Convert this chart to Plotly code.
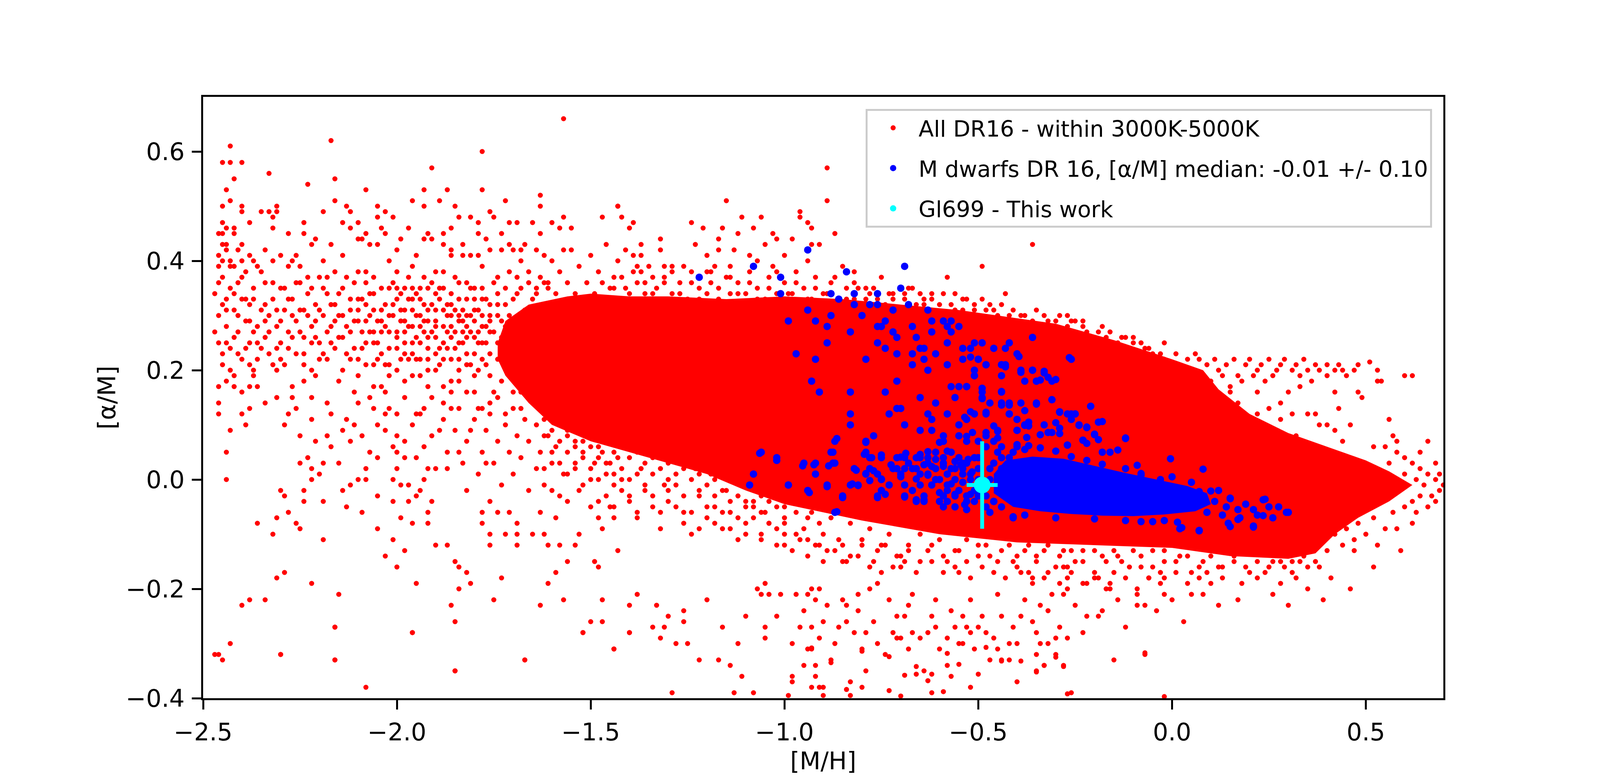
import plotly.graph_objects as go

# ---- data: [M/H] (x) and [alpha/M] (y) ----

# outline of the saturated (solid red) part of the DR16 cloud
core_mh = [-1.74, -1.72, -1.66, -1.56, -1.50, -1.40, -1.30, -1.15, -1.00, -0.85, -0.70, -0.55,
           -0.40, -0.30, -0.15, 0.00, 0.08, 0.12, 0.20, 0.30, 0.40, 0.50, 0.56, 0.62,
           0.56, 0.48, 0.42, 0.37, 0.30, 0.15, 0.00, -0.20, -0.40, -0.60, -0.80,
           -0.90, -1.00, -1.10, -1.20, -1.35, -1.50, -1.60, -1.66, -1.72, -1.74]
core_am = [0.25, 0.29, 0.32, 0.335, 0.34, 0.335, 0.335, 0.33, 0.335, 0.33, 0.32, 0.31,
           0.295, 0.285, 0.255, 0.22, 0.20, 0.165, 0.12, 0.085, 0.06, 0.035, 0.015, -0.01,
           -0.04, -0.07, -0.10, -0.135, -0.145, -0.14, -0.125, -0.12, -0.115, -0.10, -0.075,
           -0.06, -0.045, -0.02, 0.01, 0.04, 0.07, 0.10, 0.14, 0.19, 0.22]

# individual DR16 stars outside the saturated core
red_left_high = [
    (-2.43, 0.61), (-2.45, 0.58), (-2.43, 0.58), (-2.40, 0.58), (-2.42, 0.55), (-2.44, 0.53),
    (-2.33, 0.56), (-2.17, 0.62), (-2.16, 0.55), (-2.23, 0.54), (-1.91, 0.57), (-1.78, 0.60),
    (-1.78, 0.53), (-1.57, 0.66), (-1.87, 0.53), (-1.93, 0.53), (-2.08, 0.53), (-1.63, 0.52),
    (-1.72, 0.51), (-1.63, 0.50), (-1.96, 0.51), (-1.93, 0.50), (-1.89, 0.51), (-1.85, 0.50),
    (-2.05, 0.50), (-2.03, 0.49), (-2.01, 0.48), (-2.05, 0.48), (-2.13, 0.50), (-2.12, 0.49),
    (-2.19, 0.49), (-2.16, 0.51), (-2.31, 0.50), (-2.35, 0.49), (-2.33, 0.49), (-2.32, 0.48),
    (-2.31, 0.49), (-2.32, 0.46), (-2.45, 0.50), (-2.43, 0.51), (-2.40, 0.50), (-2.40, 0.49),
    (-2.45, 0.47), (-2.45, 0.45), (-2.46, 0.45), (-2.44, 0.46), (-2.42, 0.46), (-2.42, 0.45),
    (-2.38, 0.47), (-2.28, 0.45), (-2.24, 0.47), (-2.24, 0.45), (-2.14, 0.47), (-2.12, 0.46),
    (-2.10, 0.47), (-2.08, 0.45), (-2.04, 0.46), (-2.03, 0.45), (-1.97, 0.46), (-1.92, 0.45),
    (-1.88, 0.45), (-1.86, 0.46), (-1.84, 0.48), (-1.81, 0.48), (-1.79, 0.47), (-1.79, 0.45),
    (-1.76, 0.49), (-1.75, 0.48), (-1.73, 0.45), (-1.71, 0.47), (-1.69, 0.47), (-1.65, 0.47),
    (-1.63, 0.45), (-1.60, 0.47), (-1.58, 0.46), (-1.55, 0.46), (-1.57, 0.48), (-1.47, 0.48),
    (-1.43, 0.50),
    (-2.41, 0.42), (-2.40, 0.43), (-2.44, 0.42), (-2.44, 0.43), (-2.45, 0.43), (-2.45, 0.40),
    (-2.46, 0.39), (-2.43, 0.40), (-2.42, 0.39), (-2.38, 0.41), (-2.37, 0.40), (-2.22, 0.43),
    (-2.21, 0.44), (-2.17, 0.43), (-2.10, 0.44), (-2.09, 0.44), (-2.07, 0.43), (-2.05, 0.43),
    (-1.99, 0.44), (-1.93, 0.44), (-1.91, 0.44), (-1.88, 0.43), (-1.86, 0.42), (-1.83, 0.43),
    (-1.77, 0.44), (-1.67, 0.43), (-1.68, 0.42), (-1.70, 0.42), (-1.71, 0.43), (-1.73, 0.42),
    (-1.76, 0.42), (-1.79, 0.41), (-1.81, 0.41), (-1.83, 0.41), (-1.86, 0.41), (-2.30, 0.41),
    (-2.27, 0.40), (-2.19, 0.40), (-2.14, 0.41), (-2.02, 0.40), (-1.96, 0.39), (-2.34, 0.42),
    (-2.25, 0.39), (-2.00, 0.42), (-1.95, 0.41), (-1.62, 0.41), (-1.57, 0.42),
]

red_left_band = [
    (-2.47, 0.34), (-2.46, 0.30), (-2.46, 0.25), (-2.45, 0.37), (-2.45, 0.21), (-2.44, 0.33),
    (-2.44, 0.28), (-2.43, 0.39), (-2.43, 0.24), (-2.42, 0.31), (-2.42, 0.19), (-2.41, 0.36),
    (-2.41, 0.27), (-2.40, 0.33), (-2.40, 0.22), (-2.39, 0.29), (-2.39, 0.38), (-2.38, 0.25),
    (-2.38, 0.32), (-2.37, 0.35), (-2.36, 0.28), (-2.36, 0.22), (-2.35, 0.31), (-2.34, 0.26),
    (-2.34, 0.36), (-2.33, 0.30), (-2.32, 0.33), (-2.32, 0.21), (-2.31, 0.28), (-2.30, 0.35),
    (-2.30, 0.25), (-2.29, 0.31), (-2.28, 0.27), (-2.28, 0.39), (-2.27, 0.33), (-2.26, 0.29),
    (-2.26, 0.23), (-2.25, 0.36), (-2.24, 0.31), (-2.24, 0.26), (-2.23, 0.34), (-2.22, 0.28),
    (-2.22, 0.20), (-2.21, 0.32), (-2.20, 0.37), (-2.20, 0.25), (-2.19, 0.30), (-2.18, 0.34),
    (-2.18, 0.22), (-2.17, 0.28), (-2.16, 0.32), (-2.16, 0.38), (-2.15, 0.26), (-2.14, 0.30),
    (-2.14, 0.35), (-2.13, 0.23), (-2.12, 0.31), (-2.12, 0.27), (-2.11, 0.36), (-2.10, 0.29),
    (-2.10, 0.19), (-2.09, 0.33), (-2.08, 0.25), (-2.08, 0.38), (-2.07, 0.30), (-2.06, 0.27),
    (-2.06, 0.34), (-2.05, 0.22), (-2.04, 0.31), (-2.04, 0.17), (-2.03, 0.28), (-2.02, 0.35),
    (-2.02, 0.24), (-2.01, 0.32), (-2.00, 0.27), (-2.00, 0.20), (-1.99, 0.34), (-1.99, 0.29),
    (-1.98, 0.25), (-1.98, 0.31), (-1.97, 0.37), (-1.97, 0.22), (-1.96, 0.28), (-1.96, 0.33),
    (-1.95, 0.26), (-1.95, 0.30), (-1.94, 0.35), (-1.94, 0.19), (-1.93, 0.27), (-1.93, 0.32),
    (-1.92, 0.24), (-1.92, 0.29), (-1.91, 0.36), (-1.91, 0.15), (-1.90, 0.31), (-1.90, 0.26),
    (-1.89, 0.33), (-1.89, 0.21), (-1.88, 0.28), (-1.88, 0.38), (-1.87, 0.30), (-1.87, 0.24),
    (-1.86, 0.34), (-1.86, 0.18), (-1.85, 0.27), (-1.85, 0.31), (-1.84, 0.22), (-1.84, 0.36),
    (-1.83, 0.29), (-1.83, 0.25), (-1.82, 0.33), (-1.82, 0.16), (-1.81, 0.30), (-1.81, 0.27),
    (-1.80, 0.23), (-1.80, 0.35), (-1.79, 0.31), (-1.79, 0.20), (-1.78, 0.28), (-1.78, 0.39),
    (-1.77, 0.25), (-1.77, 0.33), (-1.76, 0.30), (-1.76, 0.14), (-1.75, 0.27), (-1.75, 0.36),
    (-1.74, 0.22), (-1.74, 0.32), (-1.73, 0.29), (-1.73, 0.18), (-1.72, 0.35), (-1.72, 0.25),
    (-2.09, 0.27), (-2.07, 0.34), (-2.06, 0.21), (-2.05, 0.29), (-2.03, 0.32), (-2.02, 0.19),
    (-2.01, 0.36), (-2.00, 0.24), (-1.99, 0.31), (-1.98, 0.18), (-1.97, 0.28), (-1.96, 0.35),
    (-1.95, 0.22), (-1.94, 0.30), (-1.93, 0.37), (-1.92, 0.20), (-1.91, 0.27), (-1.90, 0.34),
    (-1.89, 0.24), (-1.88, 0.17), (-1.87, 0.32), (-1.86, 0.26), (-1.85, 0.37), (-1.84, 0.20),
    (-1.83, 0.31), (-1.82, 0.26), (-1.81, 0.35), (-1.80, 0.19), (-1.79, 0.27), (-1.78, 0.33),
    (-1.77, 0.21), (-1.76, 0.29), (-1.75, 0.16), (-1.74, 0.34), (-1.73, 0.26), (-1.72, 0.21),
    (-1.71, 0.30), (-1.70, 0.24), (-1.69, 0.37), (-1.68, 0.19), (-1.67, 0.31), (-1.66, 0.27),
    (-1.65, 0.22), (-1.64, 0.35), (-1.63, 0.18), (-1.62, 0.29), (-1.61, 0.36), (-1.60, 0.22),
    (-1.59, 0.16), (-1.58, 0.30),
    (-1.71, 0.38), (-1.69, 0.34), (-1.68, 0.40), (-1.66, 0.36), (-1.65, 0.33), (-1.64, 0.42),
    (-1.63, 0.37), (-1.61, 0.35), (-1.60, 0.40), (-1.59, 0.34), (-1.58, 0.38), (-1.56, 0.36),
    (-1.55, 0.42), (-1.54, 0.34), (-1.53, 0.39), (-1.51, 0.36), (-1.50, 0.41), (-1.49, 0.34),
    (-1.48, 0.38), (-1.47, 0.36), (-1.46, 0.43), (-1.45, 0.35),
    (-2.44, 0.18), (-2.40, 0.12), (-2.37, 0.19), (-2.34, 0.14), (-2.31, 0.20), (-2.27, 0.17),
    (-2.25, 0.08), (-2.21, 0.19), (-2.18, 0.14), (-2.15, 0.18), (-2.13, 0.11), (-2.11, 0.16),
    (-2.09, 0.08), (-2.07, 0.15), (-2.05, 0.10), (-2.03, 0.16), (-2.01, 0.06),
    (-2.06, 0.13), (-2.03, 0.09), (-2.00, 0.12), (-1.98, 0.07), (-1.96, 0.10), (-1.95, 0.04),
    (-1.93, 0.13), (-1.91, 0.08), (-1.90, 0.02), (-1.88, 0.11), (-1.87, 0.05), (-1.85, 0.09),
    (-1.84, 0.13), (-1.83, 0.03), (-1.82, 0.07), (-1.80, 0.11), (-1.79, 0.01), (-1.78, 0.05),
    (-1.77, 0.09), (-1.76, 0.12), (-1.75, 0.03), (-1.74, 0.07), (-1.73, -0.01), (-1.72, 0.10),
    (-1.71, 0.05), (-1.70, 0.13), (-1.70, 0.01), (-1.69, 0.08), (-1.68, 0.16), (-1.68, 0.04),
    (-1.67, 0.11), (-1.66, -0.02), (-1.66, 0.07), (-1.65, 0.14), (-1.64, 0.02), (-1.64, 0.10),
    (-1.63, 0.05), (-1.62, 0.12), (-1.62, -0.01), (-1.61, 0.08), (-1.60, 0.03), (-1.60, 0.11),
    (-1.59, 0.06), (-1.58, 0.13), (-1.58, -0.03), (-1.57, 0.01), (-1.56, 0.09), (-1.56, 0.05),
    (-1.55, 0.12), (-1.54, 0.02), (-1.54, 0.07), (-1.53, -0.02), (-1.52, 0.10), (-1.52, 0.04),
    (-1.51, 0.08), (-1.50, 0.00), (-1.50, 0.06), (-1.49, 0.03), (-1.48, 0.09), (-1.48, -0.04),
    (-1.47, 0.05), (-1.46, 0.01), (-1.46, 0.07), (-1.45, 0.03), (-1.44, -0.01),
]

red_left_dense = [
    (-2.10, 0.22), (-2.10, 0.33), (-2.10, 0.14), (-2.08, 0.29), (-2.08, 0.21), (-2.08, 0.36),
    (-2.06, 0.25), (-2.06, 0.31), (-2.06, 0.17), (-2.04, 0.27), (-2.04, 0.35), (-2.04, 0.23),
    (-2.02, 0.30), (-2.02, 0.21), (-2.02, 0.13), (-2.00, 0.26), (-2.00, 0.33), (-2.00, 0.38),
    (-1.98, 0.23), (-1.98, 0.29), (-1.98, 0.35), (-1.98, 0.15), (-1.96, 0.25), (-1.96, 0.31),
    (-1.96, 0.19), (-1.94, 0.28), (-1.94, 0.22), (-1.94, 0.33), (-1.94, 0.12), (-1.92, 0.26),
    (-1.92, 0.31), (-1.92, 0.35), (-1.92, 0.17), (-1.90, 0.23), (-1.90, 0.29), (-1.90, 0.20),
    (-1.90, 0.38), (-1.88, 0.25), (-1.88, 0.31), (-1.88, 0.35), (-1.88, 0.14), (-1.86, 0.22),
    (-1.86, 0.28), (-1.86, 0.30), (-1.86, 0.16), (-1.84, 0.25), (-1.84, 0.33), (-1.84, 0.29),
    (-1.84, 0.18), (-1.82, 0.21), (-1.82, 0.28), (-1.82, 0.36), (-1.82, 0.23), (-1.80, 0.26),
    (-1.80, 0.31), (-1.80, 0.16), (-1.80, 0.29), (-1.78, 0.22), (-1.78, 0.25), (-1.78, 0.35),
    (-1.78, 0.13), (-1.76, 0.27), (-1.76, 0.32), (-1.76, 0.19), (-1.76, 0.23), (-1.74, 0.25),
    (-1.74, 0.30), (-1.74, 0.37), (-1.74, 0.15), (-1.72, 0.23), (-1.72, 0.28), (-1.72, 0.32),
    (-1.72, 0.12), (-1.70, 0.20), (-1.70, 0.27), (-1.70, 0.33), (-1.70, 0.16), (-1.68, 0.22),
    (-1.68, 0.29), (-1.68, 0.35), (-1.68, 0.13), (-1.66, 0.25), (-1.66, 0.31), (-1.66, 0.18),
    (-1.66, 0.38), (-1.64, 0.21), (-1.64, 0.28), (-1.64, 0.34), (-1.64, 0.15), (-1.62, 0.24),
    (-1.62, 0.30), (-1.62, 0.36), (-1.62, 0.11),
    (-2.47, 0.27), (-2.46, 0.36), (-2.45, 0.23), (-2.44, 0.31), (-2.43, 0.35), (-2.42, 0.26),
    (-2.41, 0.30), (-2.40, 0.37), (-2.39, 0.24), (-2.38, 0.29), (-2.37, 0.33), (-2.36, 0.25),
    (-2.35, 0.38), (-2.34, 0.29), (-2.33, 0.23), (-2.32, 0.36), (-2.31, 0.31), (-2.30, 0.22),
    (-2.29, 0.35), (-2.28, 0.24), (-2.27, 0.30), (-2.26, 0.36), (-2.25, 0.27), (-2.24, 0.21),
    (-2.23, 0.30), (-2.22, 0.35), (-2.21, 0.26), (-2.20, 0.31), (-2.19, 0.23), (-2.18, 0.37),
    (-2.17, 0.25), (-2.16, 0.29), (-2.15, 0.34), (-2.14, 0.20), (-2.13, 0.28), (-2.12, 0.33),
    (-2.11, 0.24), (-2.10, 0.38),
    (-2.46, 0.41), (-2.45, 0.32), (-2.44, 0.25), (-2.43, 0.20), (-2.42, 0.34), (-2.41, 0.23),
    (-2.40, 0.40), (-2.39, 0.33), (-2.38, 0.21), (-2.37, 0.27), (-2.36, 0.39), (-2.35, 0.24),
    (-2.34, 0.32), (-2.33, 0.27), (-2.32, 0.40), (-2.31, 0.24), (-2.30, 0.29), (-2.29, 0.21),
    (-2.28, 0.33), (-2.27, 0.26), (-2.26, 0.41), (-2.25, 0.31), (-2.24, 0.23), (-2.23, 0.37),
    (-2.22, 0.25), (-2.21, 0.29), (-2.20, 0.22), (-2.19, 0.35), (-2.18, 0.27), (-2.17, 0.32),
    (-2.16, 0.24), (-2.15, 0.30), (-2.14, 0.26), (-2.13, 0.37), (-2.12, 0.22), (-2.11, 0.29),
    (-2.10, 0.31), (-2.09, 0.24), (-2.08, 0.32), (-2.07, 0.27), (-2.06, 0.37), (-2.05, 0.25),
    (-2.04, 0.29), (-2.03, 0.21), (-2.02, 0.27), (-2.01, 0.30), (-2.00, 0.35), (-1.99, 0.22),
    (-1.98, 0.27), (-1.97, 0.33), (-1.96, 0.23), (-1.95, 0.34), (-1.94, 0.25), (-1.93, 0.29),
    (-1.92, 0.22), (-1.91, 0.32), (-1.90, 0.28), (-1.89, 0.35), (-1.88, 0.22), (-1.87, 0.27),
    (-1.86, 0.32), (-1.85, 0.24), (-1.84, 0.30), (-1.83, 0.27), (-1.82, 0.30), (-1.81, 0.21),
    (-1.80, 0.33), (-1.79, 0.25), (-1.78, 0.30), (-1.77, 0.28),
    (-2.28, 0.12), (-2.25, 0.03), (-2.21, 0.07), (-2.17, 0.12), (-2.15, 0.03), (-2.13, -0.05),
    (-2.11, 0.10), (-2.07, 0.05), (-2.05, -0.03), (-2.03, 0.12), (-2.00, 0.08), (-1.97, -0.01),
    (-1.95, 0.12), (-1.93, 0.06), (-1.91, -0.04), (-1.89, 0.09), (-1.87, 0.02), (-1.86, 0.13),
    (-1.84, 0.05), (-1.82, -0.02), (-1.81, 0.09), (-1.79, 0.13), (-1.77, 0.03), (-1.76, -0.04),
]

red_left_low = [
    (-2.46, 0.17), (-2.42, 0.17), (-2.40, 0.16), (-2.38, 0.17), (-2.36, 0.17), (-2.37, 0.20),
    (-2.46, 0.14), (-2.46, 0.12), (-2.43, 0.09), (-2.44, 0.05), (-2.44, 0.00), (-2.39, 0.10),
    (-2.38, 0.13), (-2.31, 0.15), (-2.29, 0.10), (-2.26, 0.13), (-2.27, 0.15), (-2.24, 0.18),
    (-2.22, 0.15), (-2.22, 0.11), (-2.23, 0.04), (-2.22, 0.02), (-2.22, 0.00), (-2.20, 0.01),
    (-2.19, -0.04), (-2.24, -0.02), (-2.24, -0.04), (-2.30, -0.02), (-2.29, -0.03), (-2.28, -0.06),
    (-2.36, -0.08), (-2.31, -0.07), (-2.26, -0.08), (-2.25, -0.09), (-2.19, -0.11), (-2.32, -0.10),
    (-2.29, -0.17), (-2.31, -0.18), (-2.38, -0.22), (-2.34, -0.22), (-2.40, -0.23), (-2.43, -0.30),
    (-2.30, -0.32), (-2.47, -0.32), (-2.46, -0.32), (-2.45, -0.33), (-2.22, -0.19), (-2.15, -0.21),
    (-2.16, -0.27), (-2.16, -0.33), (-2.08, -0.38), (-2.14, -0.02), (-2.18, 0.08), (-2.17, 0.06),
    (-2.19, 0.03), (-2.14, 0.09), (-2.12, 0.07), (-2.12, -0.01), (-2.09, -0.06), (-2.05, -0.09),
    (-2.03, -0.14), (-2.01, -0.11), (-2.00, -0.16), (-1.98, -0.13), (-1.96, -0.08), (-1.97, -0.04),
    (-1.95, -0.03), (-1.94, -0.02), (-2.01, -0.04), (-1.99, -0.01), (-1.99, -0.07), (-2.08, 0.02),
    (-2.08, 0.00), (-2.10, 0.00), (-2.05, 0.04), (-2.01, 0.00), (-2.00, 0.02), (-2.00, 0.05),
    (-1.98, 0.04), (-1.93, 0.00), (-1.92, 0.02), (-1.92, -0.06), (-1.92, -0.08), (-1.90, -0.12),
    (-1.87, -0.12), (-1.85, -0.15), (-1.84, -0.16), (-1.82, -0.17), (-1.81, -0.19), (-1.84, -0.20),
    (-1.86, -0.23), (-1.85, -0.26), (-1.85, -0.35), (-1.95, -0.19), (-1.96, -0.28), (-1.75, -0.22),
    (-1.73, -0.18), (-1.69, -0.10), (-1.69, -0.12), (-1.67, -0.33), (-1.63, -0.23), (-1.61, -0.19),
    (-1.59, -0.17), (-1.57, -0.22), (-1.56, -0.15), (-1.52, -0.28), (-1.50, -0.26), (-1.47, -0.22),
    (-1.47, -0.26), (-1.44, -0.31), (-1.49, -0.15), (-1.48, -0.16), (-1.54, -0.12), (-1.58, -0.12),
    (-1.61, -0.12), (-1.62, -0.10), (-1.65, -0.10), (-1.76, -0.10), (-1.76, -0.12), (-1.72, -0.10),
    (-1.78, -0.08), (-1.78, -0.06), (-1.74, -0.06), (-1.71, -0.06), (-1.69, -0.08), (-1.63, -0.06),
    (-1.59, -0.07), (-1.53, -0.10), (-1.48, -0.07), (-1.43, -0.13), (-1.45, -0.05), (-1.47, -0.09),
    (-2.16, -0.27), (-1.96, -0.28), (-2.30, -0.32), (-2.16, -0.33), (-1.85, -0.35), (-1.67, -0.33),
    (-1.52, -0.28), (-1.40, -0.28),
]

red_below_core = [
    (-1.62, 0.08), (-1.62, 0.02), (-1.60, 0.09), (-1.60, 0.05), (-1.60, -0.02), (-1.58, 0.07),
    (-1.58, 0.03), (-1.58, 0.10), (-1.56, 0.08), (-1.56, 0.01), (-1.56, -0.04), (-1.54, 0.06),
    (-1.54, 0.09), (-1.54, 0.03), (-1.52, 0.07), (-1.52, -0.01), (-1.52, 0.05), (-1.50, 0.08),
    (-1.50, 0.02), (-1.50, -0.05), (-1.48, 0.06), (-1.48, 0.00), (-1.48, 0.04), (-1.46, 0.08),
    (-1.46, 0.03), (-1.46, -0.03), (-1.44, 0.07), (-1.44, 0.01), (-1.44, 0.05), (-1.44, -0.07),
    (-1.42, 0.06), (-1.42, 0.02), (-1.42, -0.02), (-1.40, 0.08), (-1.40, 0.04), (-1.40, -0.04),
    (-1.40, 0.00), (-1.38, 0.05), (-1.38, 0.01), (-1.38, -0.06), (-1.36, 0.07), (-1.36, 0.03),
    (-1.36, -0.01), (-1.34, 0.04), (-1.34, 0.06), (-1.34, -0.03), (-1.34, 0.01), (-1.32, 0.05),
    (-1.32, 0.02), (-1.32, -0.06), (-1.30, 0.03), (-1.30, 0.06), (-1.30, -0.02), (-1.30, 0.00),
    (-1.28, 0.04), (-1.28, 0.01), (-1.28, -0.05), (-1.26, 0.02), (-1.26, 0.05), (-1.26, -0.03),
    (-1.26, -0.08), (-1.24, 0.03), (-1.24, 0.00), (-1.24, -0.06), (-1.22, 0.04), (-1.22, 0.01),
    (-1.22, -0.02), (-1.22, -0.09), (-1.20, 0.02), (-1.20, -0.01), (-1.20, -0.05), (-1.18, 0.03),
    (-1.18, 0.00), (-1.18, -0.03), (-1.18, -0.08), (-1.16, 0.01), (-1.16, -0.02), (-1.16, -0.06),
    (-1.14, 0.02), (-1.14, -0.04), (-1.14, -0.09), (-1.14, 0.00), (-1.12, 0.00), (-1.12, -0.03),
    (-1.12, -0.07), (-1.10, -0.01), (-1.10, -0.05), (-1.10, -0.10), (-1.08, -0.02), (-1.08, -0.07),
    (-1.08, -0.04), (-1.06, -0.03), (-1.06, -0.06), (-1.06, -0.11), (-1.04, -0.04), (-1.04, -0.08),
    (-1.04, -0.02), (-1.02, -0.05), (-1.02, -0.09), (-1.00, -0.05), (-1.00, -0.08), (-1.00, -0.12),
    (-0.97, -0.06), (-0.97, -0.10), (-0.94, -0.07), (-0.94, -0.11), (-0.91, -0.08), (-0.91, -0.12),
]

red_top_fringe = [
    (-1.43, 0.50), (-1.42, 0.48), (-1.40, 0.46), (-1.39, 0.47), (-1.37, 0.43), (-1.41, 0.42),
    (-1.43, 0.40), (-1.39, 0.41), (-1.38, 0.39), (-1.37, 0.41), (-1.37, 0.38), (-1.34, 0.37),
    (-1.32, 0.44), (-1.32, 0.42), (-1.31, 0.39), (-1.29, 0.39), (-1.26, 0.39), (-1.24, 0.47),
    (-1.23, 0.43), (-1.21, 0.46), (-1.20, 0.41), (-1.20, 0.38), (-1.18, 0.39), (-1.17, 0.42),
    (-1.17, 0.44), (-1.16, 0.46), (-1.15, 0.51), (-1.14, 0.39), (-1.13, 0.42), (-1.12, 0.45),
    (-1.11, 0.48), (-1.09, 0.41), (-1.08, 0.46), (-1.07, 0.40), (-1.06, 0.48), (-1.05, 0.43),
    (-1.03, 0.45), (-1.02, 0.44), (-1.03, 0.39), (-1.00, 0.41), (-0.98, 0.44), (-0.96, 0.49),
    (-0.96, 0.48), (-0.94, 0.47), (-0.93, 0.46), (-0.93, 0.43), (-0.94, 0.40), (-0.91, 0.43),
    (-0.89, 0.57), (-0.89, 0.51), (-0.87, 0.45), (-0.85, 0.39), (-0.82, 0.38), (-0.81, 0.35),
    (-0.79, 0.35), (-0.75, 0.37), (-0.73, 0.34), (-0.69, 0.34), (-0.68, 0.35), (-0.65, 0.34),
    (-0.62, 0.34), (-0.58, 0.37), (-0.56, 0.34), (-0.53, 0.33), (-0.49, 0.39), (-0.47, 0.32),
    (-0.43, 0.34), (-0.36, 0.43),
    (-1.44, 0.35), (-1.42, 0.37), (-1.40, 0.34), (-1.38, 0.36), (-1.36, 0.34), (-1.35, 0.39),
    (-1.33, 0.35), (-1.31, 0.37), (-1.29, 0.34), (-1.27, 0.36), (-1.25, 0.33), (-1.24, 0.38),
    (-1.22, 0.35), (-1.20, 0.34), (-1.19, 0.36), (-1.17, 0.33), (-1.15, 0.37), (-1.14, 0.34),
    (-1.12, 0.36), (-1.10, 0.34), (-1.09, 0.38), (-1.07, 0.35), (-1.05, 0.33), (-1.04, 0.37),
    (-1.02, 0.34), (-1.00, 0.36), (-0.98, 0.34), (-0.97, 0.38), (-0.95, 0.35), (-0.93, 0.33),
    (-0.92, 0.37), (-0.90, 0.34), (-0.88, 0.36), (-0.86, 0.33), (-0.84, 0.35), (-0.82, 0.33),
    (-0.78, 0.34), (-0.76, 0.33), (-0.72, 0.33), (-0.70, 0.35), (-0.66, 0.32), (-0.64, 0.33),
    (-0.60, 0.32), (-0.57, 0.32), (-0.54, 0.31), (-0.51, 0.32), (-0.48, 0.31), (-0.45, 0.30),
    (-0.42, 0.30), (-0.39, 0.30), (-0.36, 0.29), (-0.33, 0.30), (-0.30, 0.29), (-0.27, 0.28),
    (-0.25, 0.27), (-0.22, 0.27), (-0.20, 0.26), (-0.17, 0.26), (-0.14, 0.25), (-0.12, 0.24),
    (-0.10, 0.25), (-0.08, 0.23), (-0.05, 0.23), (-0.02, 0.22), (-0.27, 0.30), (-0.25, 0.29),
    (-0.23, 0.29), (-0.18, 0.28), (-0.13, 0.26), (-0.10, 0.26), (-0.02, 0.25), (-0.08, 0.25),
    (-0.06, 0.24), (0.01, 0.23), (0.04, 0.22), (0.06, 0.23),
    (-1.44, 0.37), (-1.41, 0.35), (-1.39, 0.38), (-1.36, 0.36), (-1.34, 0.34), (-1.31, 0.36),
    (-1.29, 0.38), (-1.27, 0.34), (-1.24, 0.36), (-1.22, 0.33), (-1.19, 0.38), (-1.17, 0.35),
    (-1.14, 0.37), (-1.12, 0.34), (-1.09, 0.36), (-1.07, 0.33), (-1.04, 0.35), (-1.02, 0.38),
    (-0.99, 0.34), (-0.97, 0.36), (-0.94, 0.33), (-0.92, 0.35), (-0.89, 0.34), (-0.87, 0.37),
    (-0.84, 0.33), (-0.82, 0.36), (-0.79, 0.33), (-0.77, 0.35), (-0.74, 0.32), (-0.72, 0.34),
    (-0.69, 0.33), (-0.67, 0.35), (-0.64, 0.32), (-0.62, 0.33), (-0.59, 0.34), (-0.56, 0.31),
    (-0.54, 0.33), (-0.51, 0.31), (-0.49, 0.33), (-0.46, 0.31), (-0.44, 0.32), (-0.41, 0.31),
    (-0.38, 0.30), (-0.35, 0.31), (-0.32, 0.29), (-0.29, 0.30), (-0.26, 0.29), (-0.23, 0.28),
    (-0.19, 0.27), (-0.16, 0.27), (-0.12, 0.26), (-0.07, 0.24), (-0.03, 0.23),
]

red_branch = [
    (0.07, 0.22), (0.09, 0.21), (0.11, 0.22), (0.12, 0.20), (0.14, 0.21), (0.16, 0.22),
    (0.17, 0.19), (0.19, 0.21), (0.20, 0.22), (0.22, 0.20), (0.23, 0.21), (0.25, 0.22),
    (0.26, 0.19), (0.28, 0.21), (0.29, 0.22), (0.31, 0.20), (0.32, 0.21), (0.34, 0.22),
    (0.35, 0.20), (0.37, 0.21), (0.38, 0.20), (0.40, 0.21), (0.42, 0.20), (0.43, 0.21),
    (0.45, 0.19), (0.47, 0.20), (0.48, 0.21), (0.13, 0.19), (0.18, 0.18), (0.24, 0.18),
    (0.10, 0.18), (0.15, 0.17), (0.21, 0.19), (0.27, 0.20), (0.33, 0.19), (0.36, 0.18),
    (0.40, 0.19), (0.44, 0.20), (0.51, 0.215), (0.53, 0.20), (0.53, 0.18), (0.54, 0.18),
    (0.60, 0.19), (0.62, 0.19), (0.42, 0.16), (0.43, 0.13), (0.48, 0.16), (0.49, 0.15),
    (0.15, 0.16), (0.17, 0.14), (0.18, 0.12), (0.22, 0.12), (0.25, 0.13), (0.28, 0.11),
    (0.31, 0.12), (0.35, 0.12), (0.37, 0.12), (0.38, 0.10), (0.40, 0.10), (0.42, 0.09),
    (0.44, 0.07), (0.46, 0.10), (0.56, 0.11), (0.57, 0.08), (0.58, 0.07), (0.52, 0.06),
    (0.27, 0.09), (0.32, 0.08), (0.35, 0.06), (0.21, 0.10), (0.13, 0.15), (0.28, 0.14),
    (0.33, 0.17), (0.30, 0.16), (0.22, 0.16),
]

red_tip = [
    (0.62, 0.03), (0.63, 0.00), (0.64, 0.02), (0.65, -0.01), (0.66, 0.01), (0.67, -0.03),
    (0.64, -0.03), (0.62, -0.04), (0.68, 0.00), (0.69, -0.02), (0.66, 0.07), (0.68, 0.03),
    (0.70, -0.01), (0.60, 0.04), (0.58, 0.05), (0.55, 0.06), (0.60, -0.05), (0.57, -0.06),
    (0.63, -0.06), (0.52, -0.07), (0.48, -0.08), (0.45, -0.09), (0.42, -0.10), (0.40, -0.13),
    (0.41, -0.08), (0.44, -0.12), (0.47, -0.13), (0.52, -0.16), (0.59, -0.13), (0.41, -0.18),
    (0.55, -0.09), (0.50, -0.10), (0.47, -0.11), (0.53, -0.12), (0.58, -0.09), (0.62, -0.08),
    (0.56, 0.03), (0.60, 0.01), (0.64, 0.05), (0.66, -0.05), (0.68, -0.04), (0.69, 0.01),
]

red_bottom_fringe = [
    (0.38, -0.16), (0.35, -0.16), (0.33, -0.15), (0.31, -0.17), (0.29, -0.16), (0.26, -0.15),
    (0.22, -0.18), (0.18, -0.19), (0.16, -0.15), (0.12, -0.16), (0.08, -0.15), (0.05, -0.17),
    (0.02, -0.14), (-0.02, -0.15), (-0.05, -0.13), (-0.08, -0.16), (-0.10, -0.13), (-0.13, -0.15),
    (-0.15, -0.13), (-0.18, -0.14), (-0.20, -0.17), (-0.23, -0.13), (-0.25, -0.15), (-0.28, -0.13),
    (-0.30, -0.16), (-0.33, -0.13), (-0.35, -0.15), (-0.37, -0.12), (-0.40, -0.14), (-0.42, -0.12),
    (-0.45, -0.15), (-0.48, -0.12), (-0.50, -0.14), (-0.53, -0.11), (-0.55, -0.13), (-0.58, -0.15),
    (-0.60, -0.11), (-0.63, -0.13), (-0.65, -0.10), (-0.68, -0.12), (-0.70, -0.14), (-0.73, -0.10),
    (-0.75, -0.12), (-0.78, -0.09), (-0.80, -0.11), (-0.83, -0.08), (-0.85, -0.12), (-0.88, -0.07),
    (-0.90, -0.10), (-0.93, -0.06), (-0.95, -0.09), (-0.98, -0.04), (-1.00, -0.07), (-1.03, -0.03),
    (-1.05, -0.06), (-1.08, 0.00), (-1.10, -0.04), (-1.12, 0.02), (-1.15, -0.02), (-1.17, 0.04),
    (-1.19, 0.01), (-1.21, 0.05), (-1.23, 0.02), (-1.25, 0.06), (-1.27, 0.03), (-1.29, 0.07),
    (-1.31, -0.01), (-1.33, 0.05), (-1.35, 0.08), (-1.37, 0.02), (-1.39, 0.06), (-1.41, 0.09),
    (-1.43, 0.04), (-1.44, -0.05), (-1.42, 0.00), (-1.40, -0.03), (-1.38, -0.07), (-1.36, -0.02),
    (-1.34, -0.05), (-1.32, -0.09), (-1.30, -0.04), (-1.28, -0.01), (-1.26, -0.06), (-1.24, -0.10),
    (-1.22, -0.03), (-1.20, -0.07), (-1.18, -0.05), (-1.16, -0.09), (-1.14, -0.06), (-1.12, -0.11),
    (-1.10, -0.08), (-1.08, -0.05), (-1.06, -0.10), (-1.04, -0.08), (-1.02, -0.12), (-1.00, -0.10),
    (-0.98, -0.13), (-0.96, -0.11), (-0.94, -0.14), (-0.92, -0.12), (-0.90, -0.15), (-0.87, -0.13),
    (-0.84, -0.15), (-0.81, -0.14), (-0.78, -0.16), (-0.76, -0.13), (-0.72, -0.16), (-0.69, -0.15),
    (-0.66, -0.17), (-0.62, -0.15), (-0.59, -0.17), (-0.56, -0.16), (-0.52, -0.18), (-0.49, -0.16),
    (-0.46, -0.17), (-0.43, -0.18), (-0.39, -0.17), (-0.36, -0.18), (-0.32, -0.17), (-0.29, -0.19),
    (-0.26, -0.17), (-0.22, -0.19), (-0.19, -0.18), (-0.16, -0.20), (-0.12, -0.18), (-0.09, -0.20),
    (-0.06, -0.18), (-0.03, -0.19), (0.01, -0.17), (0.04, -0.19), (0.07, -0.18), (0.10, -0.19),
    (0.13, -0.18), (0.24, -0.17), (0.28, -0.19),
    (-0.89, -0.13), (-0.86, -0.11), (-0.83, -0.14), (-0.80, -0.12), (-0.77, -0.15), (-0.74, -0.12),
    (-0.71, -0.14), (-0.68, -0.13), (-0.65, -0.15), (-0.62, -0.12), (-0.59, -0.14), (-0.56, -0.13),
    (-0.53, -0.15), (-0.50, -0.12), (-0.47, -0.14), (-0.44, -0.13), (-0.41, -0.15), (-0.38, -0.13),
    (-0.35, -0.14), (-0.32, -0.12), (-0.29, -0.14), (-0.26, -0.13), (-0.23, -0.15), (-0.20, -0.13),
    (-0.17, -0.15), (-0.14, -0.14), (-0.11, -0.16), (-0.08, -0.14), (-0.05, -0.16), (-0.02, -0.13),
    (0.01, -0.15), (0.04, -0.14), (0.07, -0.16), (0.10, -0.14), (0.13, -0.16), (0.16, -0.14),
    (0.19, -0.16), (0.22, -0.15), (0.25, -0.16), (0.28, -0.15), (0.31, -0.15), (0.34, -0.14),
    (0.37, -0.15), (0.32, -0.18), (0.20, -0.17), (0.09, -0.17), (-0.03, -0.17), (-0.15, -0.17),
    (-0.27, -0.16), (-0.40, -0.16), (-0.55, -0.17), (-0.70, -0.16), (-0.85, -0.15),
]

red_bottom_sparse = [
    (-1.40, -0.23), (-1.33, -0.23), (-1.26, -0.24), (-1.26, -0.26), (-1.34, -0.27), (-1.31, -0.27),
    (-1.40, -0.28), (-1.32, -0.29), (-1.44, -0.31), (-1.28, -0.30), (-1.25, -0.30), (-1.22, -0.33),
    (-1.17, -0.33), (-1.14, -0.34), (-1.12, -0.30), (-1.10, -0.25), (-1.07, -0.20), (-1.06, -0.21),
    (-1.05, -0.19), (-1.05, -0.27), (-1.05, -0.29), (-1.04, -0.21), (-1.01, -0.21), (-0.97, -0.21),
    (-0.95, -0.24), (-0.94, -0.21), (-0.93, -0.20), (-0.91, -0.20), (-0.92, -0.22), (-0.93, -0.27),
    (-0.91, -0.29), (-0.90, -0.26), (-0.93, -0.31), (-0.95, -0.34), (-0.92, -0.36), (-0.91, -0.38),
    (-0.88, -0.33), (-0.86, -0.27), (-0.85, -0.22), (-0.84, -0.23), (-0.82, -0.28), (-0.81, -0.21),
    (-0.80, -0.31), (-0.79, -0.28), (-0.78, -0.20), (-0.76, -0.19), (-0.75, -0.17), (-0.74, -0.32),
    (-0.72, -0.28), (-0.71, -0.29), (-0.70, -0.29), (-0.69, -0.25), (-0.68, -0.23), (-0.67, -0.28),
    (-0.67, -0.21), (-0.65, -0.29), (-0.64, -0.35), (-0.62, -0.25), (-0.61, -0.27), (-0.60, -0.31),
    (-0.58, -0.29), (-0.58, -0.34), (-0.57, -0.36), (-0.56, -0.27), (-0.54, -0.30), (-0.54, -0.25),
    (-0.53, -0.27), (-0.52, -0.28), (-0.51, -0.31), (-0.50, -0.27), (-0.48, -0.28), (-0.47, -0.33),
    (-0.44, -0.33), (-0.44, -0.25), (-0.42, -0.30), (-0.42, -0.33), (-0.40, -0.30), (-0.39, -0.25),
    (-1.29, -0.39), (-1.13, -0.39), (-1.08, -0.39), (-1.11, -0.36), (-0.99, -0.395), (-0.98, -0.37),
    (-0.98, -0.36), (-0.92, -0.34), (-0.93, -0.38), (-0.90, -0.38), (-0.90, -0.395), (-0.88, -0.335),
    (-0.83, -0.37), (-0.83, -0.395), (-0.84, -0.384), (-0.80, -0.38), (-0.79, -0.35), (-0.80, -0.314),
    (-0.94, -0.31), (-0.93, -0.308), (-0.73, -0.386), (-0.73, -0.324), (-0.69, -0.358), (-0.66, -0.342),
    (-0.66, -0.356), (-0.63, -0.368), (-0.62, -0.356), (-0.59, -0.388), (-0.58, -0.318), (-0.55, -0.338),
    (-0.50, -0.356), (-0.48, -0.307), (-0.45, -0.31), (-0.44, -0.332), (-0.39, -0.332), (-0.35, -0.352),
    (-0.35, -0.32), (-0.33, -0.34), (-0.30, -0.325), (-0.28, -0.342), (-0.27, -0.392), (-0.07, -0.317),
    (-0.02, -0.397), (-0.70, -0.396),
    (-0.37, -0.17), (-0.36, -0.19), (-0.34, -0.23), (-0.35, -0.28), (-0.34, -0.30), (-0.32, -0.30),
    (-0.30, -0.29), (-0.29, -0.27), (-0.27, -0.29), (-0.33, -0.34), (-0.30, -0.32), (-0.28, -0.34),
    (-0.26, -0.39), (-0.35, -0.35), (-0.31, -0.21), (-0.28, -0.21), (-0.27, -0.20), (-0.23, -0.19),
    (-0.20, -0.18), (-0.19, -0.25), (-0.18, -0.24), (-0.17, -0.20), (-0.16, -0.19), (-0.23, -0.28),
    (-0.09, -0.21), (-0.06, -0.18), (-0.02, -0.18), (-0.02, -0.21), (-0.07, -0.32), (0.05, -0.21),
    (-0.09, -0.23), (-0.07, -0.23), (-0.27, -0.18), (-0.33, -0.18), (-0.28, -0.16),
    (-1.38, -0.21), (-1.30, -0.25), (-1.20, -0.22), (-1.16, -0.27), (-1.02, -0.25), (-0.98, -0.30),
    (-0.96, -0.27), (-0.89, -0.23), (-0.87, -0.30), (-0.84, -0.26), (-0.81, -0.24), (-0.77, -0.26),
    (-0.76, -0.30), (-0.73, -0.22), (-0.71, -0.25), (-0.68, -0.31), (-0.63, -0.28), (-0.61, -0.22),
    (-0.57, -0.24), (-0.55, -0.30), (-0.52, -0.22), (-0.49, -0.25), (-0.46, -0.29), (-0.45, -0.21),
    (-0.41, -0.27), (-0.38, -0.22), (-0.36, -0.26), (-0.32, -0.24), (-0.25, -0.23), (-0.22, -0.25),
    (-0.14, -0.22), (-0.12, -0.27), (-0.04, -0.24), (0.00, -0.22), (0.03, -0.26), (0.08, -0.21),
    (0.12, -0.23), (0.17, -0.22), (0.26, -0.21), (0.30, -0.23), (0.35, -0.20), (0.39, -0.22),
    (0.46, -0.20), (-0.62, -0.39), (-0.52, -0.38), (-0.40, -0.37), (-0.15, -0.33),
]

# outline of the saturated (solid blue) part of the M dwarf sample
blue_core_mh = [-0.46, -0.43, -0.36, -0.28, -0.20, -0.12, -0.04, 0.04, 0.09, 0.10,
                0.06, -0.02, -0.10, -0.18, -0.26, -0.34, -0.41, -0.46]
blue_core_am = [0.010, 0.035, 0.042, 0.038, 0.025, 0.012, 0.000, -0.012, -0.025, -0.045,
                -0.058, -0.064, -0.067, -0.066, -0.063, -0.058, -0.050, -0.025]

blue_stars = [
    (-1.22, 0.37), (-1.08, 0.39), (-1.01, 0.37), (-1.01, 0.34), (-0.94, 0.42), (-0.94, 0.31),
    (-0.99, 0.29), (-0.92, 0.29), (-0.88, 0.30), (-0.88, 0.34), (-0.86, 0.33), (-0.84, 0.38),
    (-0.82, 0.34), (-0.82, 0.32), (-0.80, 0.30), (-0.89, 0.28), (-0.89, 0.25), (-0.83, 0.27),
    (-0.78, 0.32), (-0.76, 0.34), (-0.76, 0.32), (-0.72, 0.31), (-0.70, 0.35), (-0.69, 0.39),
    (-0.68, 0.32), (-0.63, 0.31), (-0.74, 0.29), (-0.76, 0.28), (-0.75, 0.28), (-0.72, 0.27),
    (-0.62, 0.29), (-0.59, 0.29), (-0.57, 0.29), (-0.67, 0.28), (-0.66, 0.26), (-0.65, 0.24),
    (-0.64, 0.24), (-0.67, 0.23), (-0.67, 0.21), (-0.64, 0.22), (-0.63, 0.20), (-0.62, 0.27),
    (-0.61, 0.23), (-0.58, 0.28), (-0.58, 0.25), (-0.57, 0.27), (-0.55, 0.28), (-0.54, 0.24),
    (-0.52, 0.24), (-0.51, 0.25), (-0.54, 0.22), (-0.50, 0.22), (-0.49, 0.25), (-0.46, 0.24),
    (-0.43, 0.24), (-0.42, 0.25), (-0.40, 0.23), (-0.51, 0.19), (-0.48, 0.21), (-0.44, 0.21),
    (-0.43, 0.21), (-0.39, 0.20), (-0.58, 0.21), (-0.76, 0.25), (-0.74, 0.24), (-0.71, 0.23),
    (-0.71, 0.26), (-0.79, 0.22), (-0.92, 0.22), (-0.97, 0.23), (-0.93, 0.18), (-0.91, 0.16),
    (-0.83, 0.16), (-0.83, 0.12), (-0.83, 0.10), (-0.74, 0.16), (-0.71, 0.18), (-0.71, 0.13),
    (-0.70, 0.13), (-0.73, 0.12), (-0.69, 0.10), (-0.65, 0.15), (-0.63, 0.12), (-0.62, 0.11),
    (-0.61, 0.14), (-0.58, 0.12), (-0.57, 0.17), (-0.56, 0.15), (-0.55, 0.17), (-0.53, 0.17),
    (-0.49, 0.16), (-0.49, 0.15), (-0.51, 0.12), (-0.48, 0.12), (-0.53, 0.11), (-0.44, 0.16),
    (-0.44, 0.14), (-0.42, 0.14), (-0.42, 0.12), (-0.65, 0.09), (-0.62, 0.09), (-0.59, 0.08),
    (-0.59, 0.07), (-0.55, 0.08), (-0.53, 0.07), (-0.55, 0.10), (-0.50, 0.07), (-0.48, 0.08),
    (-0.46, 0.07), (-0.45, 0.09), (-0.40, 0.09), (-0.38, 0.10), (-0.87, 0.07), (-0.88, 0.05),
    (-0.79, 0.07), (-0.77, 0.08), (-0.79, 0.05), (-0.78, 0.04), (-0.75, 0.04), (-0.71, 0.04),
    (-0.69, 0.04), (-0.65, 0.04), (-0.63, 0.04), (-0.61, 0.05), (-0.59, 0.04), (-0.57, 0.05),
    (-0.54, 0.03), (-0.51, 0.04), (-0.48, 0.06), (-0.44, 0.06), (-0.42, 0.04), (-0.40, 0.06),
    (-1.06, 0.05), (-1.02, 0.04), (-0.95, 0.03), (-0.92, 0.03), (-0.87, 0.03), (-0.82, 0.02),
    (-0.79, 0.01), (-0.78, 0.02), (-0.76, 0.01), (-0.75, 0.00), (-0.72, 0.02), (-0.70, 0.01),
    (-0.69, 0.02), (-0.67, 0.02), (-0.65, -0.01), (-0.63, 0.01), (-0.61, 0.00), (-0.58, 0.01),
    (-0.56, 0.02), (-0.54, 0.02), (-0.52, 0.00), (-0.51, -0.02), (-0.59, -0.03), (-0.58, -0.02),
    (-0.56, -0.03), (-0.59, -0.05), (-0.53, -0.04), (-0.41, -0.07), (-0.46, -0.04), (-0.43, -0.03),
    (-0.66, -0.04), (-0.64, -0.04), (-0.69, -0.03), (-0.75, -0.02), (-0.76, -0.03), (-0.83, -0.01),
    (-0.81, -0.01), (-0.85, -0.03), (-0.89, -0.01), (-0.94, -0.02), (-0.99, -0.01), (-1.09, -0.01),
    (-1.08, 0.01), (-0.87, -0.06), (-0.73, -0.01), (-0.865, -0.059), (-0.85, -0.033),
    (-0.52, 0.224), (-0.50, 0.22), (-0.48, 0.21), (-0.44, 0.21), (-0.43, 0.206), (-0.51, 0.20),
    (-0.51, 0.19), (-0.44, 0.19), (-0.39, 0.196), (-0.36, 0.20), (-0.33, 0.198), (-0.32, 0.187),
    (-0.30, 0.183), (-0.34, 0.182), (-0.35, 0.18), (-0.38, 0.18), (-0.265, 0.223), (-0.395, 0.225),
    (-0.53, 0.17), (-0.49, 0.167), (-0.44, 0.161), (-0.49, 0.148), (-0.47, 0.14), (-0.44, 0.136),
    (-0.42, 0.136), (-0.39, 0.14), (-0.38, 0.126), (-0.35, 0.138), (-0.31, 0.146), (-0.48, 0.123),
    (-0.52, 0.124), (-0.535, 0.114), (-0.42, 0.12), (-0.40, 0.11), (-0.29, 0.124), (-0.27, 0.12),
    (-0.25, 0.12), (-0.26, 0.11), (-0.21, 0.134), (-0.18, 0.106), (-0.46, 0.098), (-0.45, 0.088),
    (-0.48, 0.086), (-0.515, 0.086), (-0.53, 0.079), (-0.45, 0.076), (-0.40, 0.09), (-0.38, 0.099),
    (-0.37, 0.098), (-0.37, 0.105), (-0.33, 0.10), (-0.30, 0.104), (-0.29, 0.094), (-0.31, 0.086),
    (-0.34, 0.082), (-0.32, 0.086), (-0.29, 0.084), (-0.24, 0.099), (-0.22, 0.095), (-0.20, 0.083),
    (-0.23, 0.072), (-0.22, 0.066), (-0.19, 0.073), (-0.12, 0.076), (-0.375, 0.077), (-0.40, 0.064),
    (-0.37, 0.062), (-0.27, 0.063), (-0.18, 0.05), (-0.16, 0.05), (-0.14, 0.054), (-0.004, 0.038),
    (0.08, 0.019), (-0.09, 0.026), (-0.08, 0.011), (-0.03, 0.00), (0.00, 0.005), (0.10, -0.021),
    (0.07, -0.022), (0.15, -0.034), (0.24, -0.036), (0.275, -0.05), (0.21, -0.055), (0.235, -0.066),
    (0.175, -0.07), (0.21, -0.087), (0.145, -0.08), (0.07, -0.094), (0.025, -0.088), (0.014, -0.078),
    (-0.05, -0.077), (-0.08, -0.077), (-0.41, -0.068), (-0.53, -0.055), (-0.46, -0.04),
    (-0.36, 0.26), (-0.26, 0.22), (-0.36, 0.20), (-0.35, 0.18), (-0.33, 0.195), (-0.31, 0.18),
    (-0.35, 0.14), (-0.31, 0.146), (-0.29, 0.123), (-0.26, 0.12), (-0.25, 0.12), (-0.21, 0.134),
    (-0.19, 0.105), (-0.22, 0.096), (-0.24, 0.10), (-0.20, 0.082), (-0.23, 0.072), (-0.27, 0.063),
    (-0.12, 0.075), (0.15, -0.035), (0.235, -0.037), (0.295, -0.06), (0.17, -0.073), (0.21, -0.085),
    (0.15, -0.086), (0.07, -0.093), (0.02, -0.09),
    (-0.60, 0.068), (-0.58, 0.052), (-0.61, 0.037), (-0.59, 0.024), (-0.56, 0.033), (-0.545, 0.027),
    (-0.526, 0.037), (-0.516, 0.014), (-0.54, -0.005), (-0.57, -0.008), (-0.60, -0.024), (-0.58, -0.04),
    (-0.56, -0.027), (-0.535, -0.046), (-0.52, -0.027), (-0.63, 0.008), (-0.66, 0.02), (-0.64, 0.027),
    (-0.62, 0.024), (-0.70, 0.005), (-0.71, 0.02), (-0.66, 0.001), (-0.69, -0.032), (-0.66, -0.037),
    (-0.64, -0.037), (-0.74, -0.027), (-0.76, -0.033), (-0.75, 0.001), (-0.78, -0.002), (-0.77, 0.016),
    (-0.79, 0.011), (-0.815, 0.017), (-0.81, -0.011), (-0.825, -0.008), (-0.89, -0.013), (-0.92, 0.01),
    (-0.936, -0.024), (-0.99, -0.01), (-1.064, 0.048), (-1.02, 0.035), (-0.953, 0.025), (-0.924, 0.027),
    (-0.886, 0.025), (-0.875, 0.03), (-0.875, 0.05), (-0.865, 0.075), (-0.79, 0.068), (-0.794, 0.046),
    (-0.775, 0.04), (-0.75, 0.045), (-0.725, 0.027), (-0.70, 0.041), (-0.687, 0.048), (-0.65, 0.046),
    (-0.63, 0.051),
    (-0.44, 0.02), (-0.42, -0.01), (-0.45, -0.02), (-0.41, 0.05), (-0.38, 0.055), (-0.34, 0.058),
    (-0.30, 0.052), (-0.26, 0.042), (-0.22, 0.035), (-0.18, 0.028), (-0.12, 0.02), (-0.08, 0.008),
    (0.05, -0.005), (0.12, -0.02), (0.19, -0.045), (0.25, -0.05), (0.30, -0.06), (0.13, -0.065),
    (0.11, -0.04), (0.14, -0.05), (0.17, -0.055), (0.22, -0.065), (0.26, -0.07), (0.09, -0.06),
    (-0.02, -0.075), (-0.12, -0.075), (-0.20, -0.072), (-0.30, -0.07), (-0.38, -0.065), (-0.48, -0.05),
    (-0.50, -0.03), (-0.47, 0.0), (-0.50, 0.02),
    (-0.69, -0.01), (-0.68, 0.03), (-0.67, -0.02), (-0.66, 0.04), (-0.65, 0.01), (-0.64, -0.03),
    (-0.63, 0.03), (-0.62, -0.01), (-0.61, 0.02), (-0.60, -0.04), (-0.60, 0.00), (-0.59, 0.03),
    (-0.58, -0.01), (-0.57, 0.02), (-0.56, -0.05), (-0.56, 0.00), (-0.55, 0.04), (-0.55, -0.02),
    (-0.54, 0.01), (-0.53, -0.03), (-0.53, 0.03), (-0.52, 0.01), (-0.51, -0.04), (-0.50, 0.00),
    (-0.50, 0.04), (-0.48, -0.03), (-0.47, 0.02), (-0.47, -0.06), (-0.46, 0.03), (-0.45, 0.00),
    (-0.44, -0.05), (-0.44, 0.04), (-0.45, 0.05),
]

# Gl699 measurement from this work
gl699_mh = [-0.49]
gl699_am = [-0.01]
gl699_mh_err = [0.04]
gl699_am_err = [0.08]

legend_names = [
    "All DR16 - within 3000K-5000K",
    "M dwarfs DR 16, [α/M] median: -0.01 +/- 0.10",
    "Gl699 - This work",
]

x_ticks = [-2.5, -2.0, -1.5, -1.0, -0.5, 0.0, 0.5]
y_ticks = [-0.4, -0.2, 0.0, 0.2, 0.4, 0.6]

# ---- assemble ----

red_points = (red_left_high + red_left_band + red_left_dense + red_left_low + red_below_core
              + red_top_fringe + red_branch + red_tip + red_bottom_fringe + red_bottom_sparse)
red_mh = [p[0] for p in red_points]
red_am = [p[1] for p in red_points]
blue_mh = [p[0] for p in blue_stars]
blue_am = [p[1] for p in blue_stars]

# the browser window is 4096 px wide: keep matplotlib's fractional layout
W, H = 4096, 2000
FS = 62

fig = go.Figure()

fig.add_trace(go.Scatter(
    x=core_mh, y=core_am, mode="lines", fill="toself",
    fillcolor="#ff0000", line=dict(width=0, color="#ff0000"),
    showlegend=False, hoverinfo="skip",
))
fig.add_trace(go.Scatter(
    x=red_mh, y=red_am, mode="markers", name=legend_names[0],
    marker=dict(color="#ff0000", size=13, line=dict(width=0)),
    legendgroup="a",
))
fig.add_trace(go.Scatter(
    x=blue_core_mh, y=blue_core_am, mode="lines", fill="toself",
    fillcolor="#0000ff", line=dict(width=0, color="#0000ff"),
    showlegend=False, hoverinfo="skip",
))
fig.add_trace(go.Scatter(
    x=blue_mh, y=blue_am, mode="markers", name=legend_names[1],
    marker=dict(color="#0000ff", size=19, line=dict(width=0)),
    legendgroup="b",
))
fig.add_trace(go.Scatter(
    x=gl699_mh, y=gl699_am, mode="markers", name=legend_names[2],
    marker=dict(color="#00ffff", size=43, line=dict(width=0)),
    error_x=dict(type="data", array=gl699_mh_err, color="#00ffff", thickness=10, width=0),
    error_y=dict(type="data", array=gl699_am_err, color="#00ffff", thickness=10, width=0),
    legendgroup="c",
))

axis_style = dict(
    showgrid=False, zeroline=False,
    showline=True, mirror=True, linecolor="black", linewidth=5,
    ticks="outside", ticklen=24, tickwidth=5, tickcolor="black",
    tickformat=".1f", tickfont=dict(size=FS),
)

fig.update_xaxes(range=[-2.5, 0.7], tickvals=x_ticks, ticklabelstandoff=5,
                 title=dict(text="[M/H]", standoff=18, font=dict(size=FS)), **axis_style)
fig.update_yaxes(range=[-0.4, 0.7], tickvals=y_ticks, ticklabelstandoff=6,
                 title=dict(text="[α/M]", standoff=8, font=dict(size=FS)), **axis_style)

fig.update_layout(
    width=W, height=H,
    margin=dict(l=int(0.125 * W), r=int(0.1 * W), t=240, b=220),
    plot_bgcolor="white", paper_bgcolor="white",
    font=dict(family="DejaVu Sans", size=FS, color="black"),
    legend=dict(
        x=0.991, y=0.98, xanchor="right", yanchor="top",
        bgcolor="rgba(255,255,255,0.8)", bordercolor="#cccccc", borderwidth=5,
        font=dict(size=57), tracegroupgap=26, itemwidth=120,
    ),
)

fig.write_html("out.html")
